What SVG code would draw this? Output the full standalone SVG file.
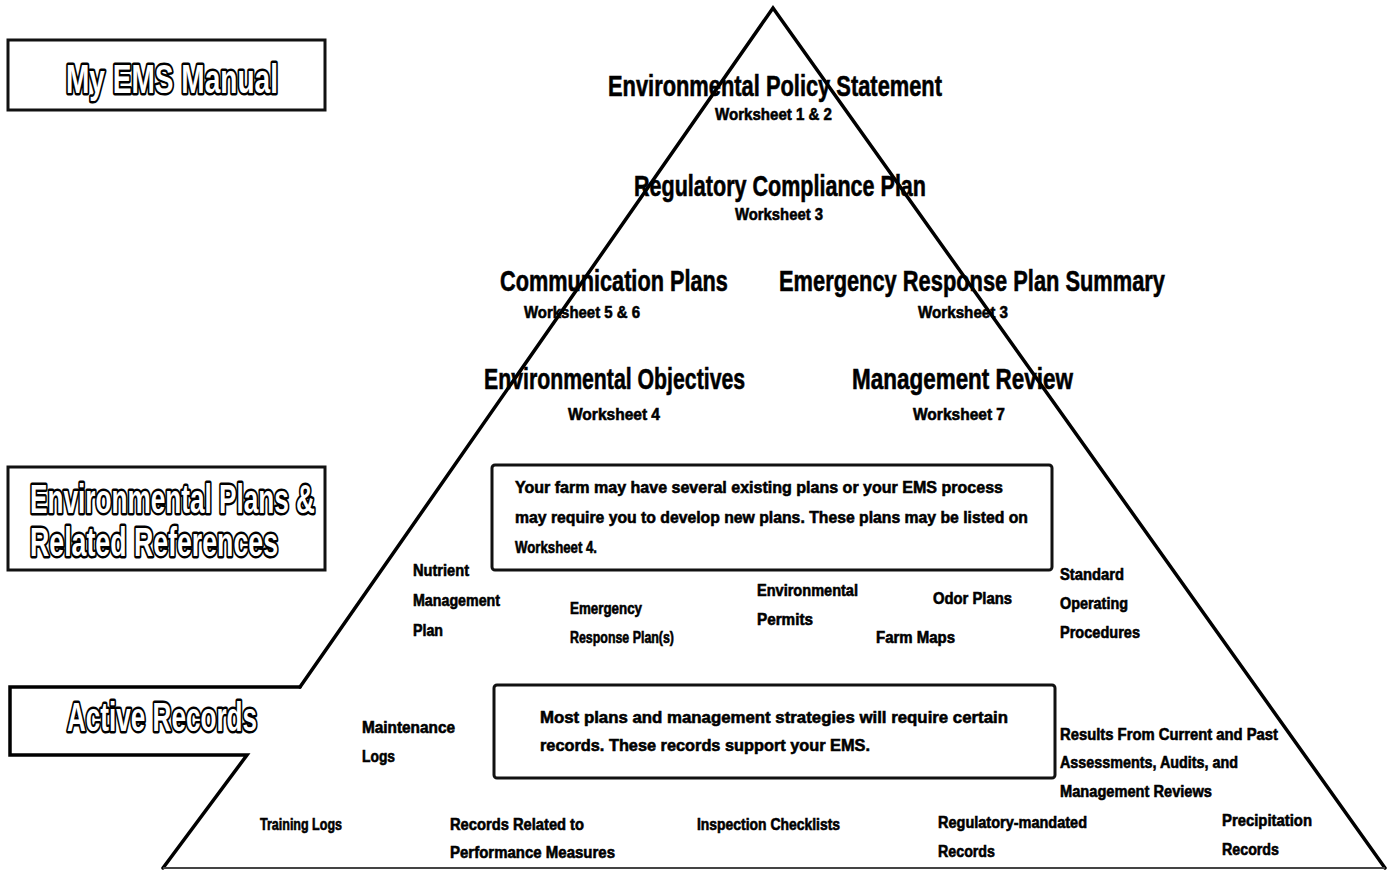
<svg xmlns="http://www.w3.org/2000/svg" width="1393" height="875" viewBox="0 0 1393 875">
  <style>
    .t { font-family: "Liberation Sans", Arial, sans-serif; font-weight: bold; fill: #000; stroke: #000; stroke-width: 0.6; }
    .h { font-size: 30px; }
    .w { font-size: 17px; }
    .s { font-size: 16px; }
    .b { font-size: 17px; }
    .lbl { font-family: "Liberation Sans", Arial, sans-serif; font-weight: bold; font-size: 41px; fill: #fff; stroke: #000; stroke-width: 5; paint-order: stroke fill; stroke-linejoin: round; }
    .frame { fill: none; stroke: #111; stroke-width: 3; }
    .edge { fill: none; stroke: #000; stroke-width: 3.5; stroke-linejoin: miter; stroke-linecap: round; }
    .base { fill: none; stroke: #444; stroke-width: 2; }
  </style>

  <rect width="1393" height="875" fill="#fff"/>

  <!-- pyramid outline with the stepped notch for the records tier -->
  <g id="connectors">
    <polyline class="edge" points="300,687 773,8 1385,868"/>
    <polyline class="edge" points="300,687 10,687 10,755 247,755 163,868"/>
    <line class="base" x1="163" y1="868" x2="1385" y2="868"/>
  </g>

  <!-- tier labels on the left -->
  <g id="label-manual">
    <rect class="frame" x="8" y="40" width="317" height="70"/>
    <text class="lbl" x="66" y="93" textLength="212" lengthAdjust="spacingAndGlyphs">My EMS Manual</text>
  </g>
  <g id="label-plans">
    <rect class="frame" x="8" y="467" width="317" height="103"/>
    <text class="lbl" x="30" y="513" textLength="285" lengthAdjust="spacingAndGlyphs">Environmental Plans &amp;</text>
    <text class="lbl" x="30" y="556" textLength="248" lengthAdjust="spacingAndGlyphs">Related References</text>
  </g>
  <g id="label-records">
    <text class="lbl" x="67" y="731" textLength="190" lengthAdjust="spacingAndGlyphs">Active Records</text>
  </g>

  <!-- manual tier -->
  <g id="policy">
    <text class="t h" x="608" y="96" textLength="334" lengthAdjust="spacingAndGlyphs">Environmental Policy Statement</text>
    <text class="t w" x="715" y="120" textLength="117" lengthAdjust="spacingAndGlyphs">Worksheet 1 &amp; 2</text>
  </g>
  <g id="compliance">
    <text class="t h" x="634" y="196" textLength="292" lengthAdjust="spacingAndGlyphs">Regulatory Compliance Plan</text>
    <text class="t w" x="735" y="220" textLength="88" lengthAdjust="spacingAndGlyphs">Worksheet 3</text>
  </g>
  <g id="communication">
    <text class="t h" transform="translate(500,291) scale(0.68,1)" x="0" y="0" textLength="335" lengthAdjust="spacingAndGlyphs">Communication Plans</text>
    <text class="t w" x="524" y="318" textLength="116" lengthAdjust="spacingAndGlyphs">Worksheet 5 &amp; 6</text>
  </g>
  <g id="emergency-summary">
    <text class="t h" x="779" y="291" textLength="386" lengthAdjust="spacingAndGlyphs">Emergency Response Plan Summary</text>
    <text class="t w" x="918" y="318" textLength="90" lengthAdjust="spacingAndGlyphs">Worksheet 3</text>
  </g>
  <g id="objectives">
    <text class="t h" transform="translate(484,389) scale(0.7,1)" x="0" y="0" textLength="373" lengthAdjust="spacingAndGlyphs">Environmental Objectives</text>
    <text class="t w" x="568" y="420" textLength="92" lengthAdjust="spacingAndGlyphs">Worksheet 4</text>
  </g>
  <g id="review">
    <text class="t h" x="852" y="389" textLength="221" lengthAdjust="spacingAndGlyphs">Management Review</text>
    <text class="t w" x="913" y="420" textLength="92" lengthAdjust="spacingAndGlyphs">Worksheet 7</text>
  </g>

  <!-- plans tier -->
  <g id="plans-note">
    <rect class="frame" x="492" y="465" width="560" height="105" rx="3" stroke-width="2.5"/>
    <text class="t b" x="515" y="493" textLength="488" lengthAdjust="spacingAndGlyphs">Your farm may have several existing plans or your EMS process</text>
    <text class="t b" x="515" y="523" textLength="513" lengthAdjust="spacingAndGlyphs">may require you to develop new plans.  These plans may be listed on</text>
    <text class="t b" x="515" y="553" textLength="82" lengthAdjust="spacingAndGlyphs">Worksheet 4.</text>
  </g>
  <g id="nutrient">
    <text class="t s" x="413" y="576" textLength="56" lengthAdjust="spacingAndGlyphs">Nutrient</text>
    <text class="t s" x="413" y="606" textLength="87" lengthAdjust="spacingAndGlyphs">Management</text>
    <text class="t s" x="413" y="636" textLength="30" lengthAdjust="spacingAndGlyphs">Plan</text>
  </g>
  <g id="emergency-plans">
    <text class="t s" x="570" y="614" textLength="72" lengthAdjust="spacingAndGlyphs">Emergency</text>
    <text class="t s" x="570" y="643" textLength="104" lengthAdjust="spacingAndGlyphs">Response Plan(s)</text>
  </g>
  <g id="permits">
    <text class="t s" x="757" y="596" textLength="101" lengthAdjust="spacingAndGlyphs">Environmental</text>
    <text class="t s" x="757" y="625" textLength="56" lengthAdjust="spacingAndGlyphs">Permits</text>
  </g>
  <g id="odor">
    <text class="t s" x="933" y="604" textLength="79" lengthAdjust="spacingAndGlyphs">Odor Plans</text>
  </g>
  <g id="maps">
    <text class="t s" x="876" y="643" textLength="79" lengthAdjust="spacingAndGlyphs">Farm Maps</text>
  </g>
  <g id="sop">
    <text class="t s" x="1060" y="580" textLength="64" lengthAdjust="spacingAndGlyphs">Standard</text>
    <text class="t s" x="1060" y="609" textLength="68" lengthAdjust="spacingAndGlyphs">Operating</text>
    <text class="t s" x="1060" y="638" textLength="80" lengthAdjust="spacingAndGlyphs">Procedures</text>
  </g>

  <!-- records tier -->
  <g id="records-note">
    <rect class="frame" x="494" y="685" width="561" height="93" rx="3" stroke-width="2.5"/>
    <text class="t b" x="540" y="723" textLength="468" lengthAdjust="spacingAndGlyphs">Most plans and management strategies will require certain</text>
    <text class="t b" x="540" y="751" textLength="330" lengthAdjust="spacingAndGlyphs">records.  These records support your EMS.</text>
  </g>
  <g id="maintenance">
    <text class="t s" x="362" y="733" textLength="93" lengthAdjust="spacingAndGlyphs">Maintenance</text>
    <text class="t s" x="362" y="762" textLength="33" lengthAdjust="spacingAndGlyphs">Logs</text>
  </g>
  <g id="assessments">
    <text class="t s" x="1060" y="740" textLength="218" lengthAdjust="spacingAndGlyphs">Results From Current and Past</text>
    <text class="t s" x="1060" y="768" textLength="178" lengthAdjust="spacingAndGlyphs">Assessments, Audits, and</text>
    <text class="t s" x="1060" y="797" textLength="152" lengthAdjust="spacingAndGlyphs">Management Reviews</text>
  </g>
  <g id="training">
    <text class="t s" x="260" y="830" textLength="82" lengthAdjust="spacingAndGlyphs">Training Logs</text>
  </g>
  <g id="performance">
    <text class="t s" x="450" y="830" textLength="134" lengthAdjust="spacingAndGlyphs">Records Related to</text>
    <text class="t s" x="450" y="858" textLength="165" lengthAdjust="spacingAndGlyphs">Performance Measures</text>
  </g>
  <g id="inspection">
    <text class="t s" x="697" y="830" textLength="143" lengthAdjust="spacingAndGlyphs">Inspection Checklists</text>
  </g>
  <g id="regulatory-records">
    <text class="t s" x="938" y="828" textLength="149" lengthAdjust="spacingAndGlyphs">Regulatory-mandated</text>
    <text class="t s" x="938" y="857" textLength="57" lengthAdjust="spacingAndGlyphs">Records</text>
  </g>
  <g id="precipitation">
    <text class="t s" x="1222" y="826" textLength="90" lengthAdjust="spacingAndGlyphs">Precipitation</text>
    <text class="t s" x="1222" y="855" textLength="57" lengthAdjust="spacingAndGlyphs">Records</text>
  </g>
</svg>
